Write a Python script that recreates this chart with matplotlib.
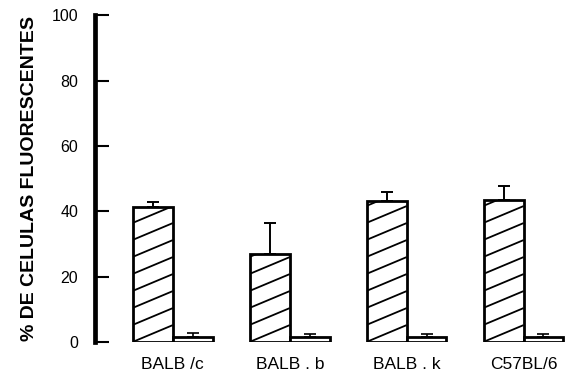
import numpy as np
import matplotlib
matplotlib.use("Agg")
from matplotlib import pyplot as plt
from matplotlib.collections import LineCollection

# Strains and percentages of fluorescent cells
strains = ["BALB /c", "BALB . b", "BALB . k", "C57BL/6"]
treated = [41.3, 26.9, 43.2, 43.6]
treatedErr = [1.6, 9.4, 2.6, 4.2]
control = [1.5, 1.5, 1.5, 1.5]
controlErr = [1.2, 1.1, 1.0, 1.0]
yTicks = [0, 20, 40, 60, 80, 100]

plt.rcParams["font.family"] = ["Liberation Sans", "DejaVu Sans"]

fig = plt.figure(figsize=(5.82, 3.78), dpi=100)
ax = fig.add_axes([0.163, 0.095, 0.825, 0.865])

x = np.arange(len(strains))
width = 0.34

barsT = ax.bar(x - width / 2, treated, width, facecolor="white",
               edgecolor="black", linewidth=2.0, zorder=2)
barsC = ax.bar(x + width / 2, control, width, facecolor="white",
               edgecolor="black", linewidth=2.0, zorder=2)

# Shallow diagonal hatching, clipped to each treated bar
slope = 15.0
step = 5.2
for bar in barsT:
    x0 = bar.get_x()
    w = bar.get_width()
    h = bar.get_height()
    segs = []
    for y0 in np.arange(-slope * w, h + step, step):
        segs.append([(x0, y0), (x0 + w, y0 + slope * w)])
    lc = LineCollection(segs, colors="black", linewidths=1.3, zorder=3)
    ax.add_collection(lc)
    lc.set_clip_path(bar)

# Upper error bars only
ax.errorbar(x - width / 2, treated, yerr=[np.zeros(4), treatedErr], fmt="none",
            ecolor="black", elinewidth=1.4, capsize=4, capthick=1.4, zorder=1)
ax.errorbar(x + width / 2, control, yerr=[np.zeros(4), controlErr], fmt="none",
            ecolor="black", elinewidth=1.2, capsize=4, capthick=1.2, zorder=1)

ax.set_ylim(0, 100)
ax.set_xlim(-0.667, 3.44)
ax.set_yticks(yTicks)
ax.set_yticklabels([str(t) for t in yTicks], fontsize=11.5)
ax.set_xticks(x)
ax.set_xticklabels(strains, fontsize=12.5)
ax.tick_params(axis="y", direction="in", length=10, width=1.5, pad=12)
ax.tick_params(axis="x", length=0, pad=11)

for side in ["top", "right", "bottom"]:
    ax.spines[side].set_visible(False)
ax.spines["left"].set_linewidth(3.4)

ax.set_ylabel("% DE CELULAS FLUORESCENTES", fontsize=14,
              fontweight="bold", labelpad=10)

fig.savefig("out.png", dpi=100)
